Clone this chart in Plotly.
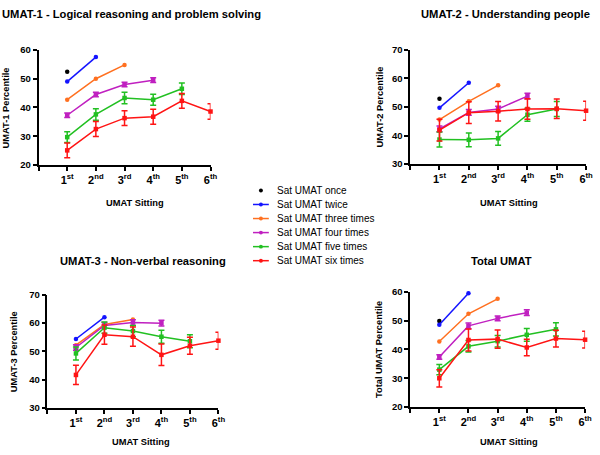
import plotly.graph_objects as go

W, H = 600, 455
FONT = "Liberation Sans, Arial, Helvetica, sans-serif"

SITTINGS = [1, 2, 3, 4, 5, 6]
TICK_TEXT = ["1<sup>st</sup>", "2<sup>nd</sup>", "3<sup>rd</sup>",
             "4<sup>th</sup>", "5<sup>th</sup>", "6<sup>th</sup>"]

GROUPS = ["Sat UMAT once", "Sat UMAT twice", "Sat UMAT three times",
          "Sat UMAT four times", "Sat UMAT five times", "Sat UMAT six times"]
COLORS = ["#000000", "#1414ff", "#ff7020", "#c020c0", "#22c022", "#ff1414"]
SYMBOLS = ["circle", "circle", "circle", "square", "square", "square"]

# mean percentile per group (index = number of sittings - 1), by sitting
UMAT1_MEAN = [[52.4], [49.0, 57.5], [42.7, 50.0, 54.8],
              [37.3, 44.5, 48.0, 49.5],
              [29.7, 37.6, 43.3, 42.7, 46.5],
              [25.1, 32.5, 36.3, 36.8, 42.3, 38.6]]
UMAT1_ERR = [[0], [0, 0], [0, 0, 0],
             [0.8, 0.8, 0.8, 0.8],
             [1.9, 2.0, 2.0, 1.9, 2.0],
             [2.6, 2.6, 2.6, 2.6, 2.6, 2.7]]

UMAT2_MEAN = [[52.9], [49.7, 58.5], [45.6, 52.0, 57.6],
              [42.3, 48.1, 49.3, 53.8],
              [38.6, 38.5, 39.0, 47.3, 49.3],
              [41.9, 48.0, 48.5, 49.3, 49.4, 48.7]]
UMAT2_ERR = [[0], [0, 0], [0, 0, 0],
             [1.0, 1.0, 1.0, 1.0],
             [2.6, 2.4, 2.4, 2.3, 2.6],
             [3.8, 3.8, 3.4, 3.6, 3.4, 3.3]]

UMAT3_MEAN = [[51.0], [54.4, 62.1], [52.2, 59.5, 61.3],
              [51.4, 59.2, 60.2, 60.0],
              [49.3, 58.4, 57.2, 55.2, 53.6],
              [41.7, 55.9, 55.2, 48.8, 52.0, 53.8]]
UMAT3_ERR = [[0], [0, 0], [0, 0, 0],
             [1.0, 1.0, 1.0, 1.0],
             [2.3, 2.0, 2.0, 2.3, 2.3],
             [3.4, 3.4, 3.4, 3.8, 3.0, 3.0]]

TOTAL_MEAN = [[49.9], [48.6, 59.5], [42.8, 52.4, 57.6],
              [37.4, 48.2, 50.8, 52.8],
              [33.0, 41.1, 42.9, 45.1, 47.0],
              [30.0, 43.3, 43.6, 40.7, 43.8, 43.4]]
TOTAL_ERR = [[0], [0, 0], [0, 0, 0],
             [0.8, 1.0, 0.8, 1.0],
             [1.8, 2.0, 2.0, 2.2, 2.3],
             [3.0, 3.8, 3.2, 2.9, 2.9, 2.9]]

# panel: y title, means, errors, y range, pixel box (x0, x1, ytop, ybottom)
PANELS = [
    ("UMAT-1 Percentile", UMAT1_MEAN, UMAT1_ERR, [20, 60], (39, 213, 45, 163)),
    ("UMAT-2 Percentile", UMAT2_MEAN, UMAT2_ERR, [30, 70], (415, 593, 45, 162)),
    ("UMAT-3 Percentile", UMAT3_MEAN, UMAT3_ERR, [30, 70], (48, 221, 296, 412)),
    ("Total UMAT Percentile", TOTAL_MEAN, TOTAL_ERR, [20, 60], (415, 592, 293, 411)),
]


def px(x):
    return x / W


def py(y):
    return 1 - y / H


fig = go.Figure()
annotations = []

for k, (ytitle, means, errs, yrange, box) in enumerate(PANELS):
    x0, x1, yt, yb = box
    sfx = "" if k == 0 else str(k + 1)
    for g in range(len(GROUPS)):
        n = len(means[g])
        has_err = any(e > 0 for e in errs[g])
        fig.add_trace(go.Scatter(
            x=SITTINGS[:n], y=means[g],
            xaxis="x" + sfx, yaxis="y" + sfx,
            mode="lines+markers" if n > 1 else "markers",
            line=dict(color=COLORS[g], width=1.5),
            marker=dict(color=COLORS[g], size=4.5, symbol=SYMBOLS[g]),
            error_y=dict(type="data", array=errs[g], visible=has_err,
                         color=COLORS[g], thickness=1.5, width=3),
            cliponaxis=False, showlegend=False, name=GROUPS[g],
        ))
    axis_common = dict(showline=True, linecolor="black", linewidth=1.5,
                       ticks="outside", ticklen=4, tickwidth=1.5, tickcolor="black",
                       showgrid=False, zeroline=False,
                       tickfont=dict(family=FONT, size=9.5, color="black", weight="bold"))
    fig.layout["xaxis" + sfx] = dict(
        axis_common, domain=[px(x0), px(x1)], range=[0, 6], anchor="y" + sfx,
        tickvals=[0] + SITTINGS, ticktext=[""] + TICK_TEXT,
        tickfont=dict(family=FONT, size=11, color="black", weight="bold"))
    fig.layout["yaxis" + sfx] = dict(
        axis_common, domain=[py(yb), py(yt)], range=yrange, anchor="x" + sfx,
        tickvals=list(range(yrange[0], yrange[1] + 1, 10)))

    # axis titles
    ycx = {0: 7, 1: 384, 2: 15, 3: 384}[k]
    annotations.append(dict(text=ytitle, x=px(ycx), y=py((yt + yb) / 2),
                            textangle=-90))
    xcx = {0: 137, 1: 515, 2: 143, 3: 515}[k]
    xcy = 202 if k < 2 else 447
    annotations.append(dict(text="UMAT Sitting", x=px(xcx), y=py(xcy)))

for a in annotations:
    a.update(xref="paper", yref="paper", showarrow=False,
             xanchor="center", yanchor="middle",
             font=dict(family=FONT, size=9.3, color="black", weight="bold"))

# panel titles
title_font = dict(family=FONT, size=11.2, color="black", weight="bold")
annotations += [
    dict(text="UMAT-1 - Logical reasoning and problem solving", x=0, y=py(8),
         xanchor="left"),
    dict(text="UMAT-2 - Understanding people", x=px(599), y=py(8), xanchor="right"),
    dict(text="UMAT-3 - Non-verbal reasoning", x=px(145), y=py(261), xanchor="center"),
    dict(text="Total UMAT", x=px(507), y=py(261), xanchor="center"),
]
for a in annotations[-4:]:
    a.update(xref="paper", yref="paper", showarrow=False, yanchor="middle",
             font=title_font)

# hand-built legend (plotly's rows are taller than the original's)
shapes = []
for g, name in enumerate(GROUPS):
    ly = 189 + g * 14.4
    if g > 0:
        shapes.append(dict(type="line", xref="paper", yref="paper",
                           x0=px(256), x1=px(272), y0=py(ly), y1=py(ly),
                           line=dict(color=COLORS[g], width=1.5)))
    shapes.append(dict(type="circle", xref="paper", yref="paper",
                       x0=px(262), x1=px(266), y0=py(ly + 2), y1=py(ly - 2),
                       fillcolor=COLORS[g], line=dict(color=COLORS[g], width=0)))
    annotations.append(dict(text=name, x=px(278), y=py(ly), xref="paper", yref="paper",
                            showarrow=False, xanchor="left", yanchor="middle",
                            font=dict(family=FONT, size=10, color="black")))

fig.update_layout(
    width=W, height=H,
    margin=dict(l=0, r=0, t=0, b=0),
    paper_bgcolor="white", plot_bgcolor="white",
    annotations=annotations, shapes=shapes,
    showlegend=False,
)

fig.write_html("out.html", config={"displayModeBar": False},
               post_script="document.body.style.margin = '0';")
